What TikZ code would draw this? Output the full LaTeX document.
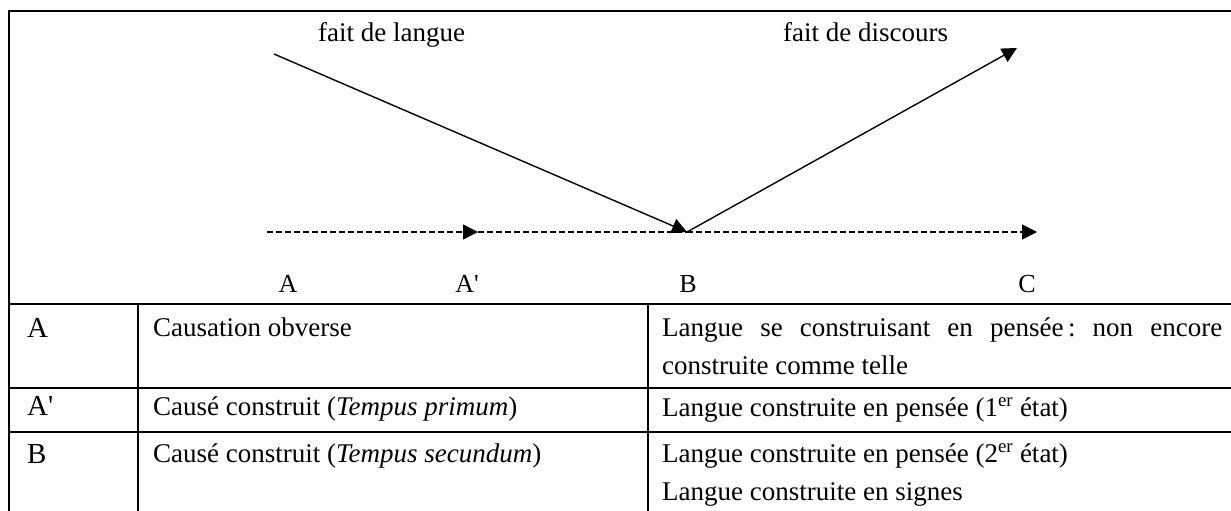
\documentclass[tikz,border=0pt]{standalone}
\usepackage{fontspec}
\setmainfont{Liberation Serif}
\usetikzlibrary{arrows.meta}
\begin{document}
\frenchspacing
\begin{tikzpicture}[x=1pt,y=-1pt,
  rule/.style={line width=2.5pt},
  thinline/.style={line width=1.4pt},
  dashline/.style={line width=1.5pt, dash pattern=on 5.5pt off 3.5pt},
  arrowhd/.style={-{Triangle[length=15pt,width=15pt]}},
  txt/.style={inner sep=0pt, anchor=base west, font=\fontsize{27}{32}\selectfont},
  ptlbl/.style={inner sep=0pt, anchor=base, font=\fontsize{26}{32}\selectfont},
  keylbl/.style={inner sep=0pt, anchor=base west, font=\fontsize{29}{34}\selectfont}]
\useasboundingbox (0,0) rectangle (1231,511);
% frame and table rules
\draw[rule] (1231,11) -- (9,11) -- (9,511);
\draw[rule] (9,304) -- (1231,304);
\draw[rule] (9,388) -- (1231,388);
\draw[rule] (9,432) -- (1231,432);
\draw[rule] (138,304) -- (138,511);
\draw[rule] (648,304) -- (648,511);
% diagram points
\coordinate (pA) at (267,232);
\coordinate (pAp) at (478,232);
\coordinate (pB) at (687,232);
\coordinate (pC) at (1037,232);
\coordinate (pL) at (274,54);
\coordinate (pD) at (1017,48);
% labels
\node[txt] (langue) at (318,42) {fait de langue};
\node[txt] (discours) at (783,42) {fait de discours};
\node[ptlbl] (lA) at (288,292) {A};
\node[ptlbl] (lAp) at (467,292) {A\textquotesingle};
\node[ptlbl] (lB) at (688,292) {B};
\node[ptlbl] (lC) at (1027,292) {C};
% connectors
\draw[dashline,arrowhd] (pA) -- (pAp);
\draw[dashline] (pAp) -- (pB);
\draw[dashline,arrowhd] (pB) -- (pC);
\draw[thinline,arrowhd] (pL) -- (pB);
\draw[thinline,arrowhd] (pB) -- (pD);
% table text
\node[keylbl] (kA) at (27,337) {A};
\node[keylbl] (kAp) at (27,415) {A\textquotesingle};
\node[keylbl] (kB) at (27,463) {B};
\node[txt] (cA) at (153,336) {Causation obverse};
\node[txt] (cAp) at (153,415) {Causé construit (\textit{Tempus primum})};
\node[txt] (cB) at (153,462) {Causé construit (\textit{Tempus secundum})};
\node[txt] (dA1) at (662,336) {\makebox[560pt][s]{Langue se construisant en pensée\,: non encore}};
\node[txt] (dA2) at (662,374) {construite comme telle};
\node[txt] (dAp) at (662,416) {Langue construite en pensée (1\textsuperscript{er} état)};
\node[txt] (dB1) at (662,462) {Langue construite en pensée (2\textsuperscript{er} état)};
\node[txt] (dB2) at (662,500) {Langue construite en signes};
\end{tikzpicture}
\end{document}
